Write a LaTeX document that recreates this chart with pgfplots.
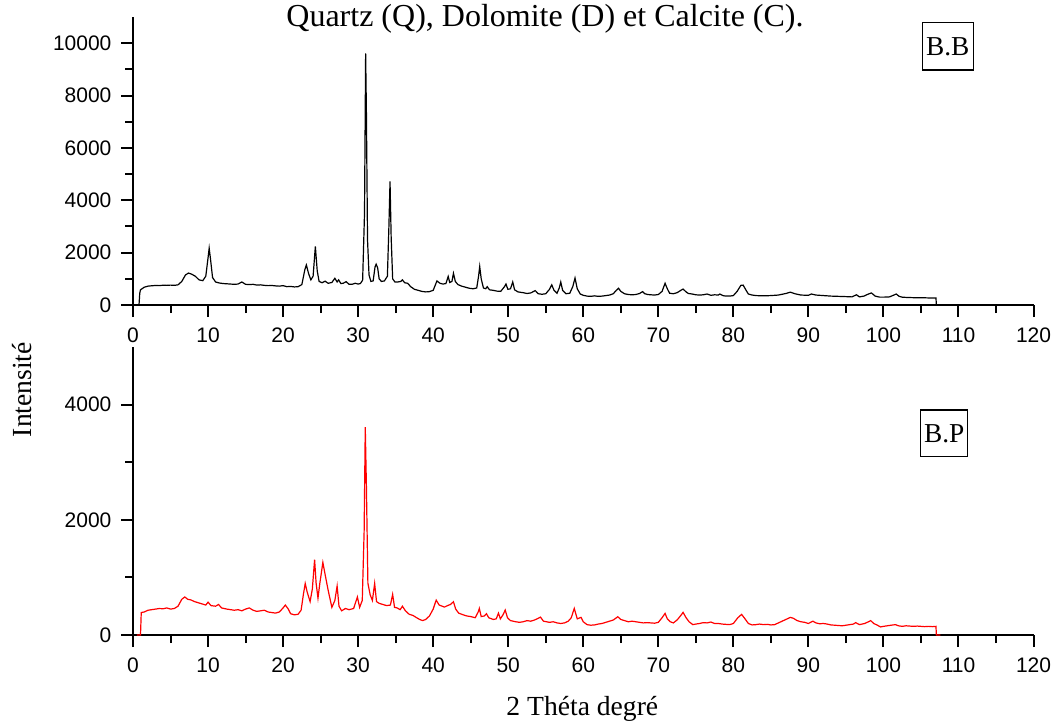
\documentclass[border=0pt]{standalone}
\usepackage{fontspec}
\setmainfont{Liberation Serif}
\newfontfamily\arialf{Liberation Sans}
\usepackage{pgfplots}
\pgfplotsset{compat=1.18}

\pgfplotsset{
  xrd/.style={
    scale only axis,
    width=675.4pt, height=216pt,
    xmin=0, xmax=120,
    xtick={0,10,...,120},
    minor x tick num=1,
    minor y tick num=1,
    scaled y ticks=false,
    axis x line*=bottom,
    axis y line*=left,
    axis line style={-, line width=1.5pt},
    tick align=outside,
    major tick length=9pt,
    minor tick length=6pt,
    every tick/.style={line width=1.5pt, black},
    ticklabel style={font=\arialf\fontsize{15.75pt}{18pt}\selectfont},
    /pgf/number format/assume math mode=true,
    /pgf/number format/1000 sep={},
    xticklabel style={anchor=north, inner sep=0pt, yshift=-8pt},
    yticklabel style={anchor=east, inner sep=0pt, xshift=-7pt},
  }
}

\begin{document}
\begin{tikzpicture}
\useasboundingbox (-99.75pt,-65.25pt) rectangle (692.25pt,476.25pt);

% upper pattern: B.B
\begin{axis}[xrd, at={(0pt,247.5pt)}, anchor=south west,
  ymin=0, ymax=11000, ytick={0,2000,...,10000}]
\addplot[black, line width=0.9pt] table {
x y
0.5 0
0.8 0
0.9 450
1.0 580
1.5 680
2.0 720
2.5 735
3.0 745
3.5 740
4.0 755
4.5 750
5.0 760
5.5 750
6.0 770
6.5 900
7.0 1150
7.4 1220
7.8 1180
8.3 1100
8.8 960
9.3 930
9.7 1100
10.0 1800
10.15 2170
10.35 1700
10.6 1050
11.0 880
11.5 840
12.0 820
12.5 810
13.0 800
13.5 790
14.0 800
14.5 880
15.0 790
15.5 780
16.0 790
16.5 760
17.0 770
17.5 750
18.0 740
18.5 745
19.0 730
19.5 720
20.0 740
20.5 700
21.0 710
21.5 690
22.0 700
22.5 780
22.9 1350
23.1 1530
23.4 1200
23.7 960
24.0 1100
24.3 2235
24.55 1300
24.8 900
25.2 850
25.6 910
26.0 830
26.5 860
26.9 1020
27.2 880
27.4 960
27.7 820
28.0 830
28.4 890
28.8 790
29.2 790
29.6 830
30.0 800
30.3 820
30.6 950
30.85 3500
31.0 9610
31.1 7400
31.25 2500
31.45 1150
31.7 900
32.0 920
32.25 1450
32.4 1560
32.6 1420
32.8 1000
33.1 900
33.5 920
33.9 1100
34.1 3000
34.25 4720
34.4 2600
34.6 1000
34.9 880
35.3 880
35.7 900
35.9 960
36.2 850
36.6 830
37.0 700
37.5 600
38.0 560
38.5 520
39.0 500
39.5 510
40.0 560
40.5 920
40.9 830
41.3 800
41.7 820
42.0 1090
42.2 860
42.5 900
42.7 1210
42.95 900
43.3 780
43.8 720
44.3 680
44.8 640
45.3 620
45.8 650
46.05 1100
46.2 1470
46.4 1000
46.7 650
47.0 620
47.2 700
47.5 580
48.0 560
48.5 530
49.0 520
49.5 700
49.7 800
49.95 600
50.3 620
50.6 880
50.85 580
51.3 500
52.0 470
52.5 440
53.0 460
53.6 550
54.0 430
54.5 410
55.0 430
55.5 600
55.8 770
56.1 560
56.5 450
56.8 650
57.0 880
57.25 560
57.7 430
58.2 450
58.6 700
58.9 1030
59.2 620
59.6 420
60.0 370
60.5 340
61.0 330
61.5 350
62.0 330
62.5 340
63.0 360
63.5 380
64.0 430
64.4 560
64.7 640
65.0 520
65.5 430
66.0 400
66.5 390
67.0 400
67.5 440
67.9 510
68.2 430
68.6 400
69.0 390
69.5 380
70.0 400
70.5 520
70.9 830
71.2 620
71.5 450
72.0 430
72.5 470
73.0 560
73.3 610
73.7 500
74.0 440
74.5 420
75.0 390
75.5 380
76.0 390
76.5 420
77.0 370
77.5 390
78.0 380
78.2 420
78.6 360
79.0 340
79.5 340
80.0 360
80.5 520
81.0 750
81.3 760
81.7 560
82.0 420
82.5 380
83.0 360
84.0 350
85.0 360
86.0 380
87.0 440
87.6 490
88.2 430
89.0 380
90.0 370
90.4 420
91.0 380
92.0 360
93.0 340
94.0 330
95.0 320
95.8 310
96.4 390
96.8 310
97.4 340
98.0 420
98.4 460
98.9 340
99.5 300
100.0 300
100.8 310
101.4 380
101.7 420
102.1 330
102.5 300
103.0 290
104.0 280
105.0 280
106.0 270
107.0 265
107.05 0
107.5 0
};
\end{axis}

% lower pattern: B.P
\begin{axis}[xrd, at={(0pt,0pt)}, anchor=south west,
  ymin=0, ymax=5000, ytick={0,2000,4000}]
\addplot[red, line width=0.9pt] table {
x y
0.5 0
1.0 0
1.1 390
1.5 400
2.0 430
2.5 440
3.0 450
3.5 460
4.0 455
4.5 470
5.0 450
5.5 460
6.0 500
6.5 620
6.9 660
7.3 620
7.7 610
8.2 580
8.7 560
9.2 540
9.7 520
10.0 570
10.4 510
11.0 500
11.4 530
11.8 470
12.5 450
13.0 440
13.5 430
14.0 440
14.5 420
15.0 450
15.5 470
16.0 430
16.5 410
17.0 420
17.5 430
18.0 400
18.5 390
19.0 380
19.5 400
20.0 470
20.3 520
20.7 450
21.0 370
21.5 350
22.0 360
22.4 430
22.7 700
22.95 895
23.2 750
23.6 580
23.9 800
24.2 1310
24.4 900
24.65 640
24.9 900
25.3 1260
25.6 1050
26.0 780
26.5 480
26.9 600
27.2 850
27.45 500
27.8 420
28.3 460
28.8 440
29.4 460
29.9 660
30.2 480
30.55 600
30.8 1800
30.95 3610
31.1 2600
31.3 900
31.6 700
31.9 600
32.2 895
32.45 580
32.8 550
33.3 530
33.8 510
34.3 520
34.6 705
34.85 480
35.2 470
35.6 440
35.9 500
36.3 420
36.8 360
37.3 340
37.8 300
38.2 270
38.6 250
39.0 270
39.5 330
40.0 450
40.4 606
40.8 520
41.2 500
41.5 485
41.9 510
42.3 530
42.7 577
43.0 450
43.4 380
44.0 350
44.5 330
45.0 320
45.6 300
46.0 400
46.15 462
46.4 320
46.8 330
47.1 370
47.4 300
48.0 270
48.4 280
48.7 380
48.95 280
49.3 350
49.6 433
49.9 300
50.3 250
51.0 230
51.5 220
52.0 230
52.5 250
53.0 240
53.5 260
54.0 290
54.3 310
54.7 240
55.5 220
56.0 230
56.5 210
57.0 200
57.5 210
58.0 240
58.4 300
58.8 462
59.2 280
59.7 306
60.0 230
60.5 180
61.0 170
61.5 175
62.0 190
62.5 200
63.0 220
63.5 240
64.0 260
64.6 317
65.0 270
65.5 250
66.0 230
66.5 240
67.0 230
67.5 220
68.0 210
68.5 215
69.0 210
69.5 205
70.0 220
70.5 300
70.9 375
71.2 280
71.6 230
72.0 210
72.5 260
73.0 340
73.3 393
73.7 300
74.1 230
74.6 180
75.0 190
75.5 200
76.0 215
76.5 210
77.0 225
77.5 200
78.0 200
78.5 190
79.0 185
79.5 180
80.0 200
80.6 300
81.1 358
81.5 290
82.0 200
82.5 175
83.0 180
83.5 190
84.0 180
84.5 185
85.0 175
85.5 180
86.0 210
86.5 240
87.0 270
87.6 306
88.0 290
88.5 250
89.0 230
89.5 220
90.0 200
90.6 240
91.0 210
91.5 195
92.0 200
92.5 190
93.0 175
93.5 170
94.0 165
94.5 160
95.0 170
95.5 180
96.0 190
96.3 215
96.8 180
97.5 200
98.0 230
98.3 250
98.7 200
99.2 170
99.6 140
100.0 150
100.5 160
101.0 170
101.6 180
102.0 160
102.5 150
103.0 160
103.5 155
104.0 150
104.5 155
105.0 150
105.5 145
106.0 150
106.5 145
107.0 150
107.05 0
107.6 0
};
\end{axis}

% texts
\node[font=\fontsize{24pt}{28pt}\selectfont, anchor=base] at (309pt,456.5pt)
  {Quartz (Q), Dolomite (D) et Calcite (C).};
\node[font=\fontsize{20.7pt}{24pt}\selectfont, anchor=base] at (337pt,-60pt)
  {2 Théta degré};
\node[font=\fontsize{20.7pt}{24pt}\selectfont, rotate=90] at (-83pt,184pt)
  {Intensité};
\node[draw, line width=0.9pt, inner sep=0pt, minimum width=38.25pt,
  minimum height=35.5pt, font=\fontsize{20.5pt}{24pt}\selectfont]
  at (611pt,441.5pt) {B.B};
\node[draw, line width=0.9pt, inner sep=0pt, minimum width=35.25pt,
  minimum height=35pt, font=\fontsize{20.5pt}{24pt}\selectfont]
  at (608.4pt,151.2pt) {B.P};
\end{tikzpicture}
\end{document}
